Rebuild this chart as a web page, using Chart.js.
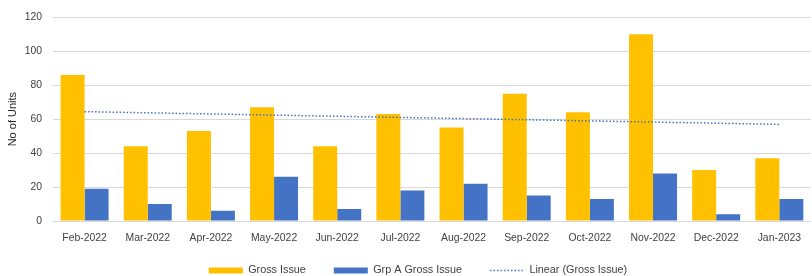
<!DOCTYPE html>
<html>
<head>
<meta charset="utf-8">
<script src="https://cdn.jsdelivr.net/npm/chart.js@4/dist/chart.umd.min.js"></script>
<style>
html,body{margin:0;padding:0;background:#fff;}
#wrap{width:812px;height:276px;position:relative;}
</style>
</head>
<body>
<div id="wrap"><canvas id="c" width="812" height="276"></canvas></div>
<script>
const categories = ["Feb-2022","Mar-2022","Apr-2022","May-2022","Jun-2022","Jul-2022","Aug-2022","Sep-2022","Oct-2022","Nov-2022","Dec-2022","Jan-2023"];
const grossIssue = [86, 44, 53, 67, 44, 63, 55, 75, 64, 110, 30, 37];
const grpAGrossIssue = [19, 10, 6, 26, 7, 18, 22, 15, 13, 28, 4, 13];
// trend line: start (Feb-2022) and end (Jan-2023) only
const linearGrossIssue = [64.4, null, null, null, null, null, null, null, null, null, null, 56.9];
const yTicks = [0, 20, 40, 60, 80, 100, 120];

const fam = "'Liberation Sans', Arial, sans-serif";
const tickFont = {family: fam, size: 10.4};
const legendFont = {family: fam, size: 10.8};

const legendTweak = {
  id: 'legendTweak',
  beforeLayout(chart) {
    const lg = chart.legend;
    if (lg && !lg._tweaked) {
      const orig = lg.fit;
      lg.fit = function() { orig.call(this); this.height = 32; };
      lg._tweaked = true;
    }
  },
  afterLayout(chart) {
    const lg = chart.legend;
    if (lg) { lg.top = lg.top - 7; lg.left += 12; lg.right += 12; }
  }
};

new Chart(document.getElementById('c'), {
  data: {
    labels: categories,
    datasets: [
      {type: 'bar', label: 'Gross Issue', data: grossIssue, backgroundColor: '#FFC000', borderWidth: 0, categoryPercentage: 0.76, barPercentage: 1.0, order: 2},
      {type: 'bar', label: 'Grp A Gross Issue', data: grpAGrossIssue, backgroundColor: '#4472C4', borderWidth: 0, categoryPercentage: 0.76, barPercentage: 1.0, order: 3},
      {type: 'line', label: 'Linear (Gross Issue)', data: linearGrossIssue, borderColor: '#4472C4', backgroundColor: '#4472C4', borderWidth: 1.5, borderDash: [1.5, 2], pointRadius: 0, spanGaps: true, fill: false, order: 1}
    ]
  },
  plugins: [legendTweak],
  options: {
    responsive: false,
    animation: false,
    devicePixelRatio: 1,
    layout: {padding: {left: 0, right: 0, top: 12, bottom: 0}},
    plugins: {
      tooltip: {enabled: false},
      legend: {
        position: 'bottom',
        labels: {
          font: legendFont,
          color: '#404040',
          usePointStyle: true,
          pointStyleWidth: 34,
          boxHeight: 6,
          padding: 28,
          sort: (a, b) => a.datasetIndex - b.datasetIndex,
          generateLabels: function(chart) {
            const items = Chart.defaults.plugins.legend.labels.generateLabels(chart);
            items.forEach(function(it) {
              if (it.datasetIndex === 2) {
                it.pointStyle = 'line'; it.lineWidth = 1.5; it.lineDash = [1.5, 2]; it.strokeStyle = '#4472C4';
              } else {
                it.pointStyle = 'rect'; it.lineWidth = 0;
              }
            });
            return items;
          }
        }
      }
    },
    scales: {
      x: {
        grid: {display: false, drawTicks: false},
        border: {display: false},
        ticks: {font: tickFont, color: '#404040', maxRotation: 0, autoSkip: false, padding: 11},
        afterFit(axis) { axis.height = 23; }
      },
      y: {
        min: 0, max: 120,
        afterBuildTicks: function(axis) { axis.ticks = yTicks.map(v => ({value: v})); },
        grid: {color: '#D9D9D9', drawTicks: false, lineWidth: 1},
        border: {display: false},
        ticks: {font: tickFont, color: '#404040', padding: 11},
        title: {display: true, text: 'No of Units', font: {family: fam, size: 11}, color: '#262626', padding: {top: 6, bottom: 0}},
        afterFit(axis) { axis.width = 53; }
      }
    }
  }
});
</script>
</body>
</html>
